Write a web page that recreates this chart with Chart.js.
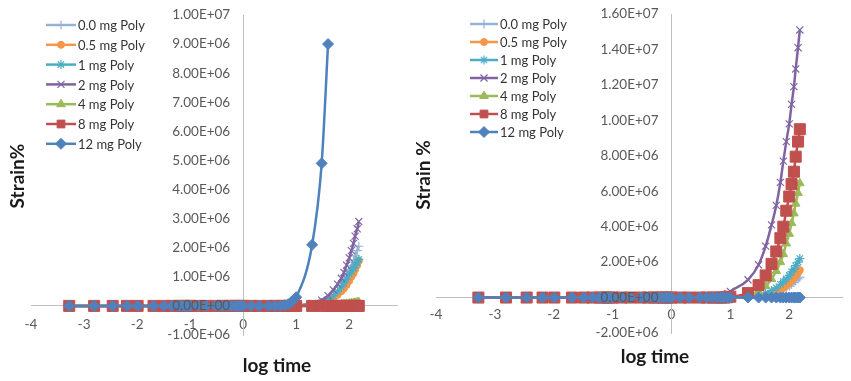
<!DOCTYPE html>
<html>
<head>
<meta charset="utf-8">
<title>Strain vs log time</title>
<script src="https://cdn.jsdelivr.net/npm/chart.js@4.4.1/dist/chart.umd.min.js"></script>
<style>
  body { margin: 0; background: #ffffff; }
  #wrap { position: relative; width: 851px; height: 381px; overflow: hidden; }
  canvas { position: absolute; top: 0; }
</style>
</head>
<body>
<div id="wrap">
  <canvas id="leftChart" width="410" height="381" style="left:0;width:410px;height:381px"></canvas>
  <canvas id="rightChart" width="441" height="381" style="left:410px;width:441px;height:381px"></canvas>
</div>
<script>
// ---------------------------------------------------------
// Data (x = log time, y = strain %)
// ---------------------------------------------------------
const seriesNames = ['0.0 mg Poly', '0.5 mg Poly', '1 mg Poly', '2 mg Poly', '4 mg Poly', '8 mg Poly', '12 mg Poly'];

// early samples: every series sits on the baseline here
const earlyLogTime = [-3.28, -2.81, -2.46, -2.19, -1.99, -1.69, -1.49, -1.34, -1.22, -1.15,
  -1.1, -1.05, -1.0, -0.85, -0.7, -0.52, -0.4, -0.3, -0.22, -0.15,
  -0.1, -0.05, 0, 0.15, 0.3, 0.48, 0.6, 0.7];
const earlyStrain = [0, 0, 0, 0, 0, 0, 0, 0, 0, 0,
  0, 0, 0, 0, 0, 0, 0, 0, 0, 0,
  0, 0, 0, 0, 0, 0, 0, 0];

// late samples where the curves take off
const lateLogTime = [0.78, 0.85, 0.9, 0.95, 1.0, 1.3, 1.48, 1.6, 1.7, 1.78, 1.85, 1.9, 1.95, 2.0, 2.04, 2.08, 2.11, 2.15, 2.18];

// left panel
const leftStrain0 = [0, 0, 0, 0, 0.01e6, 0.05e6, 0.12e6, 0.23e6, 0.37e6, 0.52e6, 0.7e6, 0.86e6, 1.02e6, 1.2e6, 1.38e6, 1.55e6, 1.72e6, 1.9e6, 2.05e6];
const leftStrain05 = [0, 0, 0, 0, 0, 0.03e6, 0.08e6, 0.16e6, 0.27e6, 0.38e6, 0.5e6, 0.6e6, 0.72e6, 0.86e6, 1.0e6, 1.12e6, 1.25e6, 1.4e6, 1.55e6];
const leftStrain1 = [0, 0, 0, 0, 0.01e6, 0.05e6, 0.12e6, 0.22e6, 0.35e6, 0.5e6, 0.65e6, 0.78e6, 0.92e6, 1.1e6, 1.2e6, 1.3e6, 1.4e6, 1.5e6, 1.6e6];
const leftStrain2 = [0, 0, 0, 0.01e6, 0.02e6, 0.08e6, 0.2e6, 0.35e6, 0.55e6, 0.75e6, 0.95e6, 1.15e6, 1.4e6, 1.65e6, 1.9e6, 2.15e6, 2.4e6, 2.65e6, 2.9e6];
const leftStrain4 = [0, 0, 0, 0, 0, 0, 0.01e6, 0.02e6, 0.03e6, 0.04e6, 0.05e6, 0.06e6, 0.07e6, 0.08e6, 0.09e6, 0.1e6, 0.11e6, 0.12e6, 0.13e6];
const leftStrain8 = [0, 0, 0, 0, 0, 0, 0, 0, 0, 0, 0, 0, 0, 0, 0, 0, 0, 0, 0];
const leftStrain12 = [0.02e6, 0.06e6, 0.12e6, 0.2e6, 0.3e6, 2.1e6, 4.9e6, 9.0e6, null, null, null, null, null, null, null, null, null, null, null];

// right panel
const rightStrain0 = [0, 0, 0, 0, 0, 0.02e6, 0.05e6, 0.1e6, 0.18e6, 0.27e6, 0.37e6, 0.45e6, 0.55e6, 0.65e6, 0.75e6, 0.85e6, 0.95e6, 1.05e6, 1.15e6];
const rightStrain05 = [0, 0, 0, 0, 0, 0.02e6, 0.06e6, 0.12e6, 0.22e6, 0.32e6, 0.45e6, 0.55e6, 0.68e6, 0.82e6, 0.95e6, 1.1e6, 1.25e6, 1.4e6, 1.55e6];
const rightStrain1 = [0, 0, 0, 0, 0.01e6, 0.05e6, 0.12e6, 0.25e6, 0.4e6, 0.55e6, 0.75e6, 0.9e6, 1.05e6, 1.25e6, 1.45e6, 1.6e6, 1.8e6, 2.0e6, 2.2e6];
const rightStrain2 = [0.03e6, 0.07e6, 0.13e6, 0.22e6, 0.35e6, 1.0e6, 1.85e6, 2.9e6, 4.1e6, 5.2e6, 6.5e6, 7.7e6, 8.8e6, 9.8e6, 10.9e6, 11.9e6, 12.9e6, 14.1e6, 15.1e6];
const rightStrain4 = [0, 0, 0, 0.01e6, 0.02e6, 0.12e6, 0.35e6, 0.65e6, 1.05e6, 1.5e6, 2.0e6, 2.45e6, 3.05e6, 3.6e6, 4.2e6, 4.75e6, 5.3e6, 5.9e6, 6.45e6];
const rightStrain8 = [0, 0, 0, 0.02e6, 0.05e6, 0.25e6, 0.7e6, 1.25e6, 1.9e6, 2.6e6, 3.35e6, 4.0e6, 4.9e6, 5.7e6, 6.4e6, 7.1e6, 7.95e6, 8.8e6, 9.5e6];
const rightStrain12 = [0, 0, 0, 0, 0, 0, 0, 0, 0, 0, 0, 0, 0, 0, 0, 0, 0, 0, 0];

// tick values
const xTicks = [-4, -3, -2, -1, 0, 1, 2];
const leftYTicks = [-1e6, 0, 1e6, 2e6, 3e6, 4e6, 5e6, 6e6, 7e6, 8e6, 9e6, 1e7];
const rightYTicks = [-2e6, 0, 2e6, 4e6, 6e6, 8e6, 1e7, 1.2e7, 1.4e7, 1.6e7];

// ---------------------------------------------------------
// Styling (Excel 2010 look)
// ---------------------------------------------------------
const seriesColors = ['#95B3D7', '#F79646', '#4BACC6', '#8064A2', '#9BBB59', '#C0504D', '#4F81BD'];
const pointStyles = ['cross', 'circle', 'star', 'crossRot', 'triangle', 'rect', 'rectRot'];
const pointRadii = [4.5, 3.5, 4.5, 5, 5, 7.8, 5.5];
const pointBorders = [1.2, 1, 1.2, 1.2, 1, 1, 1];
const FONT = 'Lato, "Open Sans", sans-serif';

function excelSci(v) {
    const parts = v.toExponential(2).split('e');
    const exp = parts[1];
    return parts[0] + 'E' + exp[0] + exp.slice(1).padStart(2, '0');
}

function buildDatasets(lateSets) {
    const xs = earlyLogTime.concat(lateLogTime);
    return lateSets.map((late, i) => {
        const ys = earlyStrain.concat(late);
        return {
            label: seriesNames[i],
            data: xs.map((x, k) => ({ x: x, y: ys[k] })),
            showLine: true,
            borderColor: seriesColors[i],
            backgroundColor: seriesColors[i],
            borderWidth: 2.5,
            cubicInterpolationMode: 'monotone',
            pointStyle: pointStyles[i],
            pointRadius: pointRadii[i],
            pointBorderWidth: pointBorders[i],
            pointBackgroundColor: seriesColors[i],
            pointBorderColor: seriesColors[i],
            order: 6 - i
        };
    });
}

// y labels sit a little left of the crossing axis, like Excel
const yLabelGap = {
    id: 'yLabelGap',
    beforeDraw(chart, args, opts) {
        const items = chart.scales.y.getLabelItems();
        items.forEach(it => {
            if (it.options && it.options.translation) it.options.translation[0] -= opts.dx;
        });
    }
};

// axis titles + in-plot legend, drawn straight on the canvas
const panelDecor = {
    id: 'panelDecor',
    afterDraw(chart, args, opts) {
        const ctx = chart.ctx;
        ctx.save();
        ctx.fillStyle = '#1a1a1a';
        ctx.font = 'bold 19px ' + FONT;
        ctx.textAlign = 'center';
        ctx.textBaseline = 'middle';
        ctx.fillText(opts.xTitle, opts.xTitleAt[0], opts.xTitleAt[1]);
        ctx.translate(opts.yTitleAt[0], opts.yTitleAt[1]);
        ctx.rotate(-Math.PI / 2);
        ctx.fillText(opts.yTitle, 0, 0);
        ctx.restore();

        const lg = opts.legend;
        ctx.save();
        ctx.font = '13px ' + FONT;
        ctx.textAlign = 'left';
        ctx.textBaseline = 'middle';
        chart.data.datasets.forEach((ds, i) => {
            const y = lg.y + i * lg.rowH;
            ctx.strokeStyle = ds.borderColor;
            ctx.lineWidth = 2.5;
            ctx.beginPath();
            ctx.moveTo(lg.x, y);
            ctx.lineTo(lg.x + lg.lineLen, y);
            ctx.stroke();
            ctx.fillStyle = ds.pointBackgroundColor;
            ctx.strokeStyle = ds.pointBorderColor;
            ctx.lineWidth = ds.pointBorderWidth;
            Chart.helpers.drawPoint(ctx, {
                pointStyle: ds.pointStyle,
                radius: Math.min(ds.pointRadius, 5.5),
                rotation: 0,
                borderWidth: ds.pointBorderWidth
            }, lg.x + lg.lineLen / 2, y);
            ctx.fillStyle = '#333333';
            ctx.fillText(ds.label, lg.x + lg.lineLen + 2, y + 1);
        });
        ctx.restore();
    }
};

function noEdgePadding(scale) {
    scale.paddingLeft = 0;
    scale.paddingRight = 0;
    scale.paddingTop = 0;
    scale.paddingBottom = 0;
}

function makePanel(canvasId, lateSets, cfg) {
    const ctx = document.getElementById(canvasId).getContext('2d');
    return new Chart(ctx, {
        type: 'scatter',
        data: { datasets: buildDatasets(lateSets) },
        options: {
            responsive: false,
            animation: false,
            layout: { padding: cfg.padding },
            plugins: {
                legend: { display: false },
                tooltip: { enabled: false },
                yLabelGap: { dx: 13 },
                panelDecor: cfg.decor
            },
            scales: {
                x: {
                    type: 'linear',
                    min: -4,
                    max: 2.9,
                    position: { y: 0 },
                    grid: { display: false, drawTicks: false },
                    border: { color: '#BFBFBF', width: 1 },
                    ticks: {
                        autoSkip: false,
                        padding: cfg.xTickPad,
                        color: '#595959',
                        font: { family: FONT, size: 13.5 },
                        callback: v => String(v)
                    },
                    afterBuildTicks: s => { s.ticks = xTicks.map(v => ({ value: v })); },
                    afterFit: noEdgePadding
                },
                y: {
                    type: 'linear',
                    min: cfg.yTicks[0],
                    max: cfg.yTicks[cfg.yTicks.length - 1],
                    position: { x: 0 },
                    grid: { display: false, drawTicks: false },
                    border: { color: '#BFBFBF', width: 1 },
                    ticks: {
                        z: 1,
                        autoSkip: false,
                        padding: 0,
                        color: '#595959',
                        font: { family: FONT, size: 13.5 },
                        callback: v => excelSci(v)
                    },
                    afterBuildTicks: s => { s.ticks = cfg.yTicks.map(v => ({ value: v })); },
                    afterFit: noEdgePadding
                }
            }
        },
        plugins: [yLabelGap, panelDecor]
    });
}

window.leftPanel = makePanel('leftChart',
    [leftStrain0, leftStrain05, leftStrain1, leftStrain2, leftStrain4, leftStrain8, leftStrain12], {
        padding: { left: 31, right: 13, top: 15, bottom: 46 },
        yTicks: leftYTicks,
        xTickPad: 11,
        decor: {
            xTitle: 'log time', xTitleAt: [277, 366],
            yTitle: 'Strain%', yTitleAt: [18, 176],
            legend: { x: 46, y: 25, rowH: 19.8, lineLen: 30 }
        }
    });

window.rightPanel = makePanel('rightChart',
    [rightStrain0, rightStrain05, rightStrain1, rightStrain2, rightStrain4, rightStrain8, rightStrain12], {
        padding: { left: 26, right: 1, top: 14, bottom: 48 },
        yTicks: rightYTicks,
        xTickPad: 9,
        decor: {
            xTitle: 'log time', xTitleAt: [245, 357],
            yTitle: 'Strain %', yTitleAt: [14, 175],
            legend: { x: 60, y: 24, rowH: 18, lineLen: 28 }
        }
    });
</script>
</body>
</html>
